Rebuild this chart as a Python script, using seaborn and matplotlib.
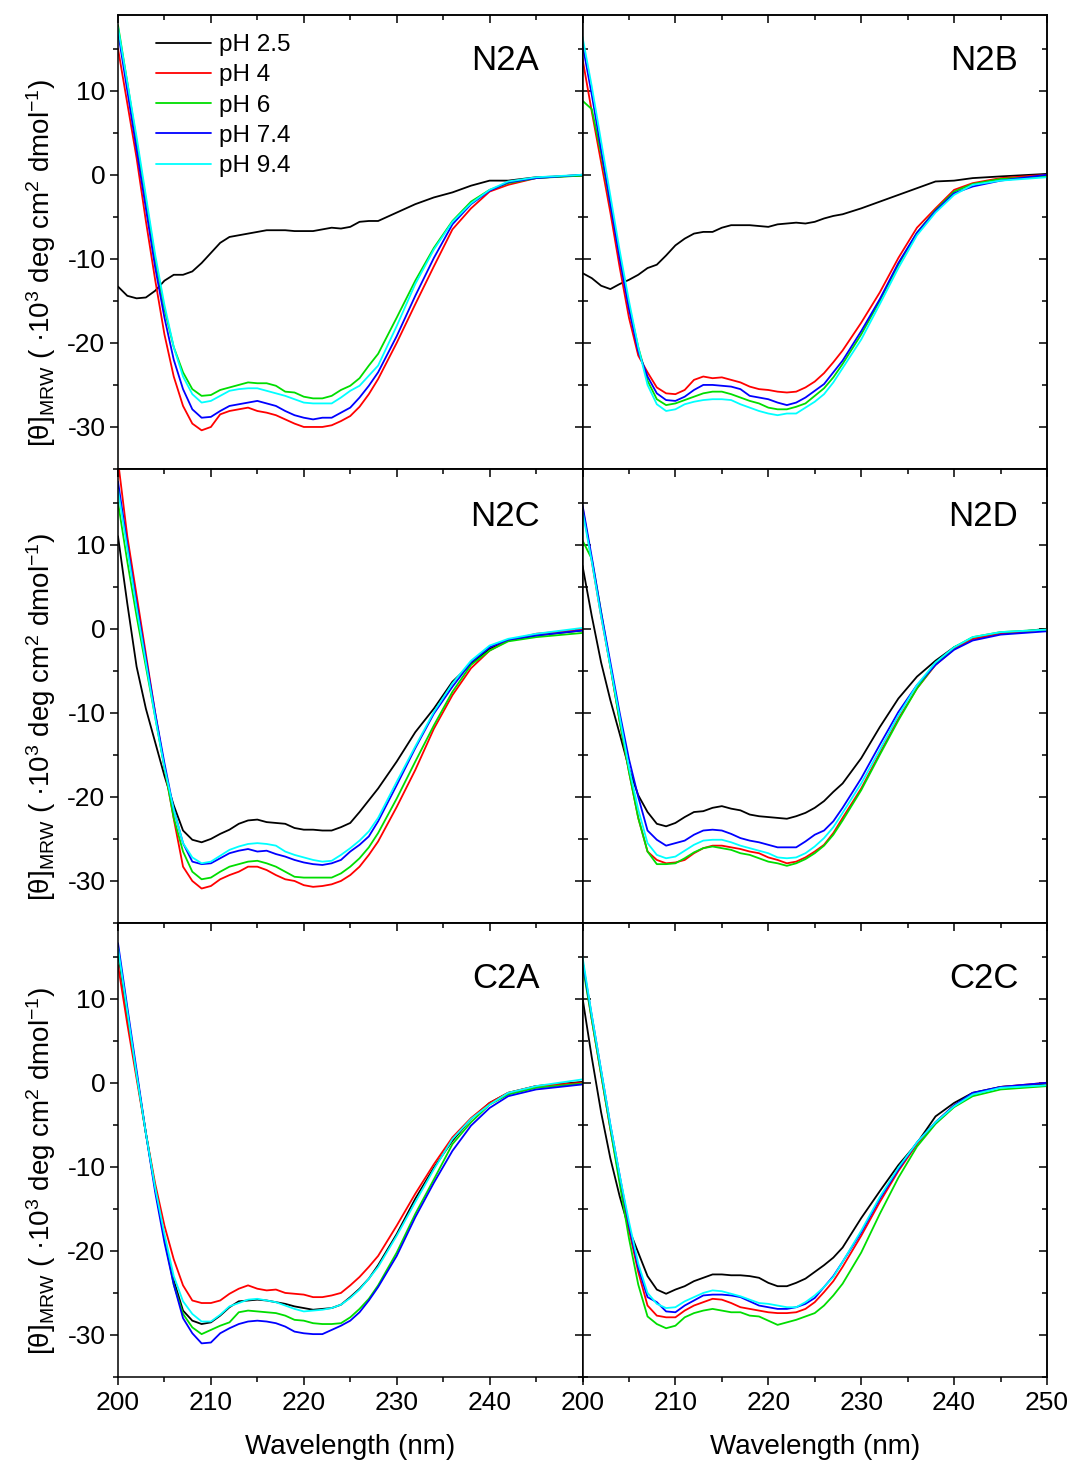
import numpy as np
import pandas as pd
import matplotlib
matplotlib.use("Agg")
import matplotlib.pyplot as plt
from matplotlib.ticker import MultipleLocator
import seaborn as sns

# ---------------- data ----------------
WAVELENGTH = list(range(200, 229)) + [230, 232, 234, 236, 238, 240, 242, 245, 250]
PH_LABELS = ["pH 2.5", "pH 4", "pH 6", "pH 7.4", "pH 9.4"]
PH_COLORS = ["#000000", "#FF0000", "#00DD00", "#0000FF", "#00FFFF"]
PANEL_NAMES = ["N2A", "N2B", "N2C", "N2D", "C2A", "C2C"]

N2A_PH25 = [-13.3, -14.4, -14.7, -14.6, -13.8, -12.6, -11.9, -11.9, -11.5, -10.5, -9.3, -8.1, -7.4, -7.2, -7.0,
            -6.8, -6.6, -6.6, -6.6, -6.7, -6.7, -6.7, -6.5, -6.3, -6.4, -6.2, -5.6, -5.5, -5.5,
            -4.5, -3.5, -2.7, -2.1, -1.3, -0.7, -0.7, -0.3, -0.1]
N2A_PH4 = [15.0, 8.5, 2.0, -5.5, -12.5, -19.0, -24.0, -27.5, -29.6, -30.4, -30.0, -28.5, -28.1, -27.9, -27.7,
           -28.1, -28.3, -28.6, -29.1, -29.6, -30.0, -30.0, -30.0, -29.8, -29.3, -28.7, -27.6, -26.1, -24.3,
           -20.0, -15.4, -10.9, -6.5, -4.0, -2.0, -1.2, -0.4, 0.0]
N2A_PH6 = [17.8, 11.0, 4.0, -3.0, -10.0, -16.0, -20.5, -23.5, -25.5, -26.3, -26.2, -25.6, -25.3, -25.0, -24.7,
           -24.8, -24.8, -25.1, -25.8, -25.9, -26.4, -26.6, -26.6, -26.3, -25.6, -25.1, -24.2, -22.7, -21.3,
           -17.0, -12.6, -8.7, -5.5, -3.2, -1.8, -1.0, -0.4, -0.1]
N2A_PH74 = [17.0, 10.0, 3.0, -4.0, -11.0, -17.0, -22.0, -25.5, -27.9, -28.9, -28.8, -28.1, -27.5, -27.3, -27.1,
            -26.9, -27.2, -27.5, -28.1, -28.6, -28.9, -29.1, -28.9, -28.9, -28.3, -27.7, -26.5, -25.1, -23.5,
            -19.2, -14.4, -9.9, -5.9, -3.5, -1.9, -0.9, -0.4, 0.0]
N2A_PH94 = [17.5, 11.0, 4.5, -2.5, -9.5, -15.5, -20.5, -24.0, -26.1, -27.1, -26.9, -26.3, -25.7, -25.5, -25.4,
            -25.4, -25.7, -26.0, -26.3, -26.7, -27.1, -27.2, -27.2, -27.2, -26.5, -25.7, -25.1, -23.9, -22.7,
            -18.0, -13.0, -8.9, -5.6, -3.4, -1.8, -0.8, -0.3, 0.0]

N2B_PH25 = [-11.7, -12.3, -13.2, -13.6, -13.0, -12.5, -11.9, -11.1, -10.7, -9.6, -8.4, -7.6, -7.0, -6.8, -6.8,
            -6.3, -6.0, -6.0, -6.0, -6.1, -6.2, -5.9, -5.8, -5.7, -5.8, -5.6, -5.2, -4.9, -4.7,
            -4.0, -3.2, -2.4, -1.6, -0.8, -0.7, -0.4, -0.2, 0.1]
N2B_PH4 = [13.8, 7.5, 1.5, -4.5, -11.0, -17.0, -21.5, -23.5, -25.3, -26.0, -26.1, -25.6, -24.4, -24.0, -24.2,
           -24.1, -24.4, -24.7, -25.2, -25.5, -25.6, -25.8, -25.9, -25.8, -25.3, -24.6, -23.6, -22.3, -20.9,
           -17.6, -14.0, -9.9, -6.3, -4.0, -1.8, -1.0, -0.4, 0.0]
N2B_PH6 = [8.8, 7.8, 2.5, -3.5, -9.5, -15.5, -20.5, -24.5, -26.7, -27.4, -27.2, -26.8, -26.4, -26.0, -25.8,
           -25.8, -26.1, -26.5, -26.9, -27.2, -27.7, -27.9, -27.9, -27.6, -27.2, -26.3, -25.4, -24.1, -22.5,
           -19.0, -15.0, -10.7, -6.9, -4.2, -2.0, -1.1, -0.5, -0.2]
N2B_PH74 = [15.5, 9.5, 3.0, -3.5, -10.0, -16.0, -21.0, -24.0, -26.0, -26.8, -26.9, -26.4, -25.6, -25.0, -25.0,
            -25.1, -25.2, -25.5, -26.3, -26.5, -26.7, -27.1, -27.4, -27.1, -26.5, -25.7, -24.9, -23.5, -22.1,
            -18.6, -14.8, -10.5, -6.9, -4.3, -2.2, -1.4, -0.7, 0.0]
N2B_PH94 = [16.4, 10.5, 4.0, -2.5, -9.0, -15.0, -20.5, -25.0, -27.3, -28.1, -27.9, -27.3, -27.0, -26.8, -26.7,
            -26.7, -26.8, -27.3, -27.7, -28.1, -28.4, -28.6, -28.4, -28.4, -27.7, -27.0, -26.1, -24.7, -23.0,
            -19.6, -15.4, -11.1, -7.2, -4.5, -2.4, -1.2, -0.7, -0.3]

N2C_PH25 = [11.0, 3.0, -4.5, -9.5, -13.5, -17.5, -21.0, -24.0, -25.1, -25.4, -25.0, -24.4, -23.9, -23.2, -22.8,
            -22.7, -23.0, -23.1, -23.2, -23.7, -23.9, -23.9, -24.0, -24.0, -23.6, -23.1, -21.8, -20.4, -19.0,
            -15.8, -12.3, -9.5, -6.3, -4.2, -2.4, -1.4, -0.8, -0.2]
N2C_PH4 = [20.0, 11.0, 4.0, -3.0, -10.0, -16.5, -22.6, -28.3, -30.0, -30.9, -30.6, -29.8, -29.3, -28.9, -28.3,
           -28.3, -28.7, -29.3, -29.8, -30.0, -30.5, -30.7, -30.6, -30.4, -30.0, -29.3, -28.3, -26.9, -25.3,
           -21.2, -16.8, -11.9, -7.9, -4.7, -2.6, -1.4, -0.6, -0.1]
N2C_PH6 = [15.0, 8.0, 1.5, -4.5, -10.5, -16.5, -22.5, -26.5, -28.9, -29.8, -29.6, -28.9, -28.3, -28.0, -27.7,
           -27.6, -27.9, -28.3, -28.9, -29.5, -29.6, -29.6, -29.6, -29.6, -29.1, -28.3, -27.3, -26.0, -24.3,
           -20.2, -15.8, -11.5, -7.5, -4.3, -2.6, -1.5, -1.0, -0.5]
N2C_PH74 = [17.5, 10.0, 3.0, -3.5, -10.0, -16.0, -21.5, -25.5, -27.7, -28.0, -27.9, -27.3, -26.7, -26.4, -26.2,
            -26.5, -26.4, -26.8, -27.1, -27.5, -27.8, -28.0, -28.1, -27.9, -27.5, -26.5, -25.7, -24.7, -22.9,
            -18.6, -14.2, -10.1, -6.9, -4.0, -2.2, -1.3, -0.8, -0.2]
N2C_PH94 = [16.5, 9.5, 2.5, -4.0, -10.5, -16.5, -21.5, -25.5, -27.2, -27.9, -27.7, -27.0, -26.3, -25.9, -25.6,
            -25.5, -25.6, -25.8, -26.5, -26.9, -27.2, -27.5, -27.7, -27.6, -26.9, -26.1, -25.2, -24.1, -22.5,
            -18.2, -14.0, -9.9, -6.5, -3.8, -2.0, -1.2, -0.6, 0.1]

N2D_PH25 = [7.5, 1.5, -4.0, -8.5, -12.5, -16.6, -19.8, -21.8, -23.2, -23.5, -23.1, -22.4, -21.8, -21.7, -21.3,
            -21.1, -21.4, -21.6, -22.1, -22.3, -22.4, -22.5, -22.6, -22.3, -21.9, -21.3, -20.5, -19.4, -18.4,
            -15.4, -11.7, -8.3, -5.7, -3.8, -2.2, -1.2, -0.6, 0.0]
N2D_PH4 = [14.5, 8.0, 1.5, -4.5, -11.0, -17.0, -22.5, -26.5, -27.5, -27.9, -27.8, -27.5, -26.7, -26.1, -25.8,
           -25.8, -26.0, -26.2, -26.5, -26.7, -27.2, -27.5, -27.9, -27.7, -27.2, -26.5, -25.7, -24.3, -22.5,
           -19.0, -14.8, -10.7, -7.1, -4.3, -2.4, -1.2, -0.6, -0.1]
N2D_PH6 = [10.5, 8.3, 2.0, -4.5, -11.0, -17.0, -22.5, -26.5, -28.0, -28.0, -27.9, -27.3, -26.6, -26.1, -25.9,
           -26.1, -26.3, -26.7, -26.9, -27.3, -27.7, -27.9, -28.2, -27.9, -27.4, -26.7, -25.8, -24.5, -22.8,
           -19.2, -15.0, -10.9, -7.1, -4.2, -2.2, -1.0, -0.4, -0.1]
N2D_PH74 = [14.7, 8.5, 2.0, -4.0, -10.0, -15.5, -20.0, -24.0, -25.1, -25.8, -25.5, -25.2, -24.5, -24.0, -23.9,
            -24.0, -24.4, -24.9, -25.2, -25.4, -25.7, -26.0, -26.0, -26.0, -25.3, -24.5, -24.0, -22.9, -21.3,
            -17.8, -13.8, -9.9, -6.7, -4.3, -2.5, -1.4, -0.7, -0.3]
N2D_PH94 = [14.0, 8.0, 1.5, -4.5, -10.5, -16.5, -21.5, -25.5, -26.9, -27.3, -27.1, -26.4, -25.7, -25.2, -25.1,
            -25.1, -25.4, -25.8, -26.1, -26.4, -26.7, -27.2, -27.3, -27.2, -26.7, -25.9, -24.9, -23.6, -21.9,
            -18.4, -14.4, -10.3, -6.7, -4.0, -2.2, -1.0, -0.4, -0.1]

C2A_PH25 = [15.5, 8.0, 1.0, -6.0, -12.5, -18.5, -23.5, -27.1, -28.3, -28.7, -28.5, -27.7, -26.7, -26.0, -25.9,
            -25.8, -25.9, -26.1, -26.3, -26.6, -26.8, -27.0, -26.9, -26.8, -26.4, -25.5, -24.5, -23.3, -21.7,
            -18.0, -13.8, -10.1, -6.9, -4.3, -2.4, -1.2, -0.4, 0.1]
C2A_PH4 = [14.0, 7.0, 0.5, -6.0, -12.0, -17.0, -21.0, -24.1, -25.9, -26.2, -26.2, -25.9, -25.1, -24.5, -24.1,
           -24.5, -24.7, -24.6, -25.0, -25.1, -25.2, -25.5, -25.5, -25.3, -25.0, -24.1, -23.1, -21.9, -20.6,
           -17.0, -13.2, -9.7, -6.5, -4.2, -2.4, -1.2, -0.4, 0.0]
C2A_PH6 = [16.0, 8.5, 1.0, -6.0, -12.5, -18.5, -24.0, -27.5, -29.1, -29.9, -29.4, -28.9, -28.5, -27.3, -27.1,
           -27.2, -27.3, -27.4, -27.7, -28.2, -28.3, -28.6, -28.7, -28.7, -28.6, -27.9, -26.9, -25.7, -24.1,
           -20.2, -15.6, -11.5, -7.3, -4.7, -2.6, -1.4, -0.6, -0.1]
C2A_PH74 = [16.6, 9.0, 1.5, -6.0, -13.0, -19.0, -24.0, -28.0, -29.8, -31.0, -30.9, -29.8, -29.2, -28.7, -28.4,
            -28.3, -28.4, -28.6, -29.0, -29.6, -29.8, -29.9, -29.9, -29.4, -28.9, -28.3, -27.3, -25.9, -24.3,
            -20.6, -16.0, -11.9, -8.1, -5.1, -3.0, -1.6, -0.8, -0.2]
C2A_PH94 = [16.0, 8.5, 1.0, -6.0, -12.5, -18.0, -23.0, -26.0, -27.5, -28.4, -28.4, -27.6, -26.6, -26.2, -25.8,
            -25.7, -25.9, -26.1, -26.5, -26.9, -27.2, -27.1, -27.0, -26.8, -26.4, -25.6, -24.6, -23.3, -21.9,
            -18.2, -14.2, -10.3, -6.7, -4.3, -2.6, -1.2, -0.4, 0.4]

C2C_PH25 = [10.1, 3.0, -3.5, -9.0, -13.5, -17.4, -20.2, -23.0, -24.6, -25.1, -24.6, -24.2, -23.6, -23.2, -22.8,
            -22.8, -22.9, -22.9, -23.0, -23.2, -23.8, -24.2, -24.2, -23.8, -23.3, -22.5, -21.7, -20.8, -19.6,
            -16.1, -12.9, -9.8, -7.2, -4.0, -2.4, -1.2, -0.5, -0.1]
C2C_PH4 = [14.5, 7.5, 1.0, -5.5, -11.5, -17.5, -22.5, -26.5, -27.7, -27.9, -27.9, -27.1, -26.5, -26.1, -25.7,
           -25.8, -26.2, -26.7, -26.9, -27.1, -27.3, -27.4, -27.4, -27.3, -26.9, -26.1, -24.9, -23.6, -21.9,
           -18.2, -14.2, -10.5, -7.3, -4.7, -2.7, -1.4, -0.5, 0.0]
C2C_PH6 = [14.0, 7.5, 1.0, -5.5, -12.0, -18.5, -24.0, -27.8, -28.7, -29.2, -28.9, -27.9, -27.4, -27.1, -26.9,
           -27.1, -27.3, -27.3, -27.7, -27.8, -28.3, -28.8, -28.5, -28.2, -27.8, -27.4, -26.5, -25.3, -23.9,
           -20.2, -15.6, -11.3, -7.6, -4.9, -2.9, -1.6, -0.8, -0.4]
C2C_PH74 = [14.5, 8.0, 1.5, -5.0, -11.0, -17.0, -22.0, -25.5, -26.1, -27.2, -27.3, -26.5, -25.9, -25.3, -25.2,
            -25.2, -25.3, -25.5, -26.0, -26.5, -26.7, -26.9, -26.9, -26.7, -26.3, -25.6, -24.3, -23.0, -21.3,
            -17.8, -13.8, -10.3, -7.1, -4.7, -2.7, -1.2, -0.5, 0.0]
C2C_PH94 = [15.0, 8.0, 1.5, -5.0, -11.0, -16.5, -21.5, -25.0, -26.3, -26.8, -26.7, -26.0, -25.5, -25.0, -24.7,
            -24.8, -25.1, -25.4, -25.8, -26.2, -26.3, -26.5, -26.7, -26.7, -26.1, -25.3, -24.3, -23.1, -21.3,
            -17.6, -13.6, -10.1, -7.1, -4.7, -2.8, -1.4, -0.6, -0.3]

PANEL_SERIES = {
    "N2A": [N2A_PH25, N2A_PH4, N2A_PH6, N2A_PH74, N2A_PH94],
    "N2B": [N2B_PH25, N2B_PH4, N2B_PH6, N2B_PH74, N2B_PH94],
    "N2C": [N2C_PH25, N2C_PH4, N2C_PH6, N2C_PH74, N2C_PH94],
    "N2D": [N2D_PH25, N2D_PH4, N2D_PH6, N2D_PH74, N2D_PH94],
    "C2A": [C2A_PH25, C2A_PH4, C2A_PH6, C2A_PH74, C2A_PH94],
    "C2C": [C2C_PH25, C2C_PH4, C2C_PH6, C2C_PH74, C2C_PH94],
}

Y_LABEL = "[θ]$_{MRW}$ ( ·10$^{3}$ deg cm$^{2}$ dmol$^{-1}$)"
X_LABEL = "Wavelength (nm)"

# ---------------- style ----------------
sns.set_theme(style="ticks", rc={
    "axes.edgecolor": "black", "axes.labelcolor": "black", "text.color": "black",
    "xtick.color": "black", "ytick.color": "black", "axes.linewidth": 1.1,
})
plt.rcParams["font.family"] = ["Liberation Sans", "DejaVu Sans"]
plt.rcParams["mathtext.default"] = "regular"
plt.rcParams["axes.unicode_minus"] = False

fig, axes = plt.subplots(3, 2, figsize=(10.74, 14.65), dpi=100, sharey=True)
fig.subplots_adjust(left=118 / 1074, right=1047 / 1074, top=1 - 15 / 1465,
                    bottom=1 - 1377 / 1465, wspace=0, hspace=0)

label_pos = {"N2A": (0.907, 0.879), "N2B": (0.938, 0.879),
             "N2C": (0.907, 0.874), "N2D": (0.938, 0.874),
             "C2A": (0.907, 0.857), "C2C": (0.938, 0.857)}

for idx, name in enumerate(PANEL_NAMES):
    r, c = divmod(idx, 2)
    ax = axes[r, c]
    frames = []
    for lab, vals in zip(PH_LABELS, PANEL_SERIES[name]):
        frames.append(pd.DataFrame({"Wavelength": WAVELENGTH, "theta": vals, "pH": lab}))
    df = pd.concat(frames, ignore_index=True)
    sns.lineplot(data=df, x="Wavelength", y="theta", hue="pH", hue_order=PH_LABELS,
                 palette=PH_COLORS, estimator=None, sort=False, linewidth=1.3,
                 ax=ax, legend=(idx == 0))
    ax.set_xlim(200, 250)
    ax.set_ylim(-35, 19)
    if c == 0:
        ax.set_xticks([200, 210, 220, 230, 240])
    else:
        ax.set_xticks([200, 210, 220, 230, 240, 250])
    ax.xaxis.set_minor_locator(MultipleLocator(5))
    ax.set_yticks([-30, -20, -10, 0, 10])
    ax.yaxis.set_minor_locator(MultipleLocator(5))

    ax.tick_params(axis="x", which="major", direction="out", length=6, width=1.1,
                   labelsize=19, pad=4, bottom=True, top=False, labelbottom=(r == 2))
    ax.tick_params(axis="x", which="minor", direction="out", length=3.5, width=1.1,
                   bottom=True, top=False)
    ydir = "out" if c == 0 else "in"
    ax.tick_params(axis="y", which="major", direction=ydir, length=6, width=1.1,
                   labelsize=19, pad=3, left=True, right=False, labelleft=(c == 0))
    ax.tick_params(axis="y", which="minor", direction=ydir, length=3.5, width=1.1,
                   left=True, right=False)

    top = ax.secondary_xaxis("top")
    top.set_xticks(ax.get_xticks())
    top.xaxis.set_minor_locator(MultipleLocator(5))
    top.tick_params(axis="x", which="major", direction="in", length=6, width=1.1, labeltop=False)
    top.tick_params(axis="x", which="minor", direction="in", length=3.5, width=1.1)
    right = ax.secondary_yaxis("right")
    right.set_yticks([-30, -20, -10, 0, 10])
    right.yaxis.set_minor_locator(MultipleLocator(5))
    right.tick_params(axis="y", which="major", direction="in", length=6, width=1.1, labelright=False)
    right.tick_params(axis="y", which="minor", direction="in", length=3.5, width=1.1)

    if c == 0:
        ax.set_ylabel(Y_LABEL, fontsize=20)
        ax.yaxis.set_label_coords(-0.13, 0.455)
    else:
        ax.set_ylabel("")
    if r == 2:
        ax.set_xlabel(X_LABEL, fontsize=20)
        ax.xaxis.set_label_coords(0.5, -0.125)
    else:
        ax.set_xlabel("")

    lx, ly = label_pos[name]
    ax.text(lx, ly, name, transform=ax.transAxes, ha="right", va="baseline", fontsize=25)

    if idx == 0:
        handles, labels = ax.get_legend_handles_labels()
        ax.legend(handles, labels, loc="upper left", bbox_to_anchor=(0.082, 0.958),
                  frameon=False, fontsize=17.5, handlelength=2.26, handletextpad=0.33,
                  labelspacing=0.34, borderpad=0, borderaxespad=0)

fig.savefig("out.png", dpi=100)
